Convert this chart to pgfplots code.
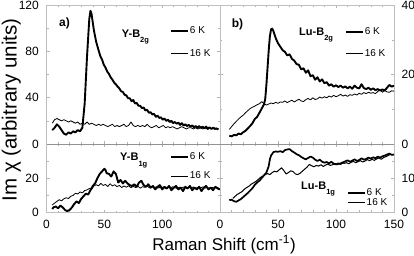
\documentclass[border=0pt]{standalone}
\usepackage{fontspec}
\setmainfont{Liberation Sans}
\usepackage{pgfplots}
\pgfplotsset{compat=1.18}
\pgfplotsset{
 panel/.style={
  scale only axis, axis line style={gray!50}, tick style={gray!60, line width=0.5pt},
  tick align=inside, major tick length=3pt, minor tick length=2pt,
  xmin=0, xmax=150, xtick={0,50,100,150}, minor x tick num=4,
  ticklabel style={font=\fontsize{12}{14}\selectfont, inner sep=0pt},
  xticklabel style={yshift=-7.5pt},
  /pgf/number format/assume math mode=true,
  legend style={draw=none, fill=none, font=\fontsize{10}{12}\selectfont, inner sep=0pt, outer sep=0pt, nodes={inner sep=0pt}, column sep=1pt},
  legend cell align=left,
  legend image code/.code={\draw[##1] (0pt,0pt) -- (17pt,0pt);},
 },
 leftlab/.style={yticklabel pos=left, yticklabel style={xshift=-7.5pt}},
 rightlab/.style={yticklabel pos=right, yticklabel style={xshift=7.5pt}},
 thick6/.style={black, line width=1.9pt, line join=round},
 thin16/.style={black, line width=0.8pt, line join=round},
}
\newcommand{\sub}[1]{\raisebox{-5.5pt}{\fontsize{7.5}{8}\selectfont #1}}
\begin{document}
\begin{tikzpicture}
\useasboundingbox (0,0) rectangle (414pt,-255pt);
% ---------------- top left: Y-B2g
\begin{axis}[panel, leftlab, at={(46.5pt,-144pt)}, anchor=south west, width=173.5pt, height=139pt,
  ymin=0, ymax=120, ytick={0,40,80,120}, minor y tick num=1, xticklabels={},
  legend style={at={(0.712,0.842)}, anchor=north west, row sep=13.8pt}]
\addplot[thick6] coordinates {(5,12) (7,14) (9,17) (11,15) (13,12) (15,9) (17,8) (19,10) (21,9) (23,11) (25,10) (27,12) (29,11) (31,14) (33,35) (35,75) (37,108) (38,115) (39,112) (41,98) (43,88)
 (45,81) (46.5,76) (48,73) (49.5,68.5) (51,66) (52.5,62.5) (54,60.5) (55.5,57.5) (57,55.5) (58.5,53) (60,51.5) (61.5,49.5) (63,48) (64.5,45.5) (66,45) (67.5,42.5) (69,42) (70.5,39.5) (72,39.5) (73.5,37) (75,38) (76.5,35) (78,35.5) (79.5,33) (81,33) (82.5,31) (84,31.5) (85.5,29) (87,29.5) (88.5,27) (90,27.5) (91.5,25.5) (93,26) (94.5,23.5) (96,24.5) (97.5,22.5) (99,23) (100.5,21) (102,22) (103.5,20) (105,21) (106.5,19) (108,20) (109.5,18) (111,19) (112.5,17.5) (114,18.5) (115.5,16.5) (117,18) (118.5,16) (120,17) (121.5,15.5) (123,16.5) (124.5,15) (126,16) (127.5,14.5) (129,15.5) (130.5,14) (132,15.5) (133.5,14) (135,15) (136.5,13.5) (138,15) (139.5,13) (141,14.5) (142.5,13) (144,14) (145.5,13) (147,13.5) (148.5,12.5)};
\addlegendentry{6 K}
\addplot[thin16] coordinates {(5,18) (7,21) (9,22) (11,21) (13,20) (15,21) (17,20) (19,19) (21,20) (23,19) (25,18) (27,19) (29,17) (31,18) (33,17) (35,19) (37,17) (39,18) (41,17) (43,16) (45,17) (47,16) (49,17) (51,16) (53,15) (55,16) (57,17) (59,15) (61,16) (63,15) (65,16) (67,17) (69,15) (71,16) (73,19) (75,16) (77,15) (79,16) (81,15) (83,16) (85,15) (87,17) (89,15) (91,14) (93,15) (95,16) (97,14) (99,15) (101,16) (103,14) (105,15) (107,14) (109,15) (111,14) (113,13) (115,14) (117,15) (119,14) (121,13) (123,14) (125,14) (127,13) (129,14) (131,13) (133,14) (135,13) (137,14) (139,13) (141,14) (143,13) (145,14) (147,13) (149,13)};
\addlegendentry{16 K}
\end{axis}
% ---------------- top right: Lu-B2g
\begin{axis}[panel, rightlab, at={(220pt,-144pt)}, anchor=south west, width=174pt, height=139pt,
  ymin=0, ymax=40, ytick={0,20,40}, minor y tick num=1, xticklabels={},
  legend style={at={(0.718,0.839)}, anchor=north west, row sep=13.5pt}]
\addplot[thick6] coordinates {(8,2.4) (10,2.2) (12,2.6) (14,2.5) (16,3.0) (18,2.8) (20,3.4) (22,3.8) (24,4.5) (26,5.2) (28,6.0) (30,7.2) (32,7.8) (34,9.0) (36,10.2) (38,11.5) (39,13) (40,17) (41,22) (42,27) (43,31) (44,33) (45,33.2) (46,32.5) (48,30.5) (50,29) (52,28) (54,27) (56,26.5) (58,25.5) (60,25.8) (62,24.5) (64,24) (66,23) (68,22.8) (70,21.5) (72,21.8) (74,20.5) (76,21.2) (78,19.5) (80,19.8) (82,18.5) (84,19.2) (86,18) (88,18.6) (90,17.5) (92,17.8) (94,16.8) (96,17.2) (98,16.5) (100,16.9) (102,16.4) (104,16.8) (106,16.2) (108,16.6) (110,16.0) (112,16.5) (114,15.9) (116,16.8) (118,16.2) (120,16.0) (122,17.2) (124,16.1) (126,15.8) (128,16.2) (130,15.6) (132,16.0) (134,15.5) (136,15.8) (138,15.4) (140,15.7) (142,15.4) (144,16.2) (146,17.0) (148,16.5) (150,16.8)};
\addlegendentry{6 K}
\addplot[thin16] coordinates {(8,4.2) (10,5) (12,5.8) (14,6.5) (16,7.2) (18,7.8) (20,8.3) (22,9) (24,9.6) (26,10.2) (28,10.6) (30,10.9) (32,11.3) (34,11.6) (36,12.2) (38,11.6) (40,11.2) (42,11.5) (44,11.8) (46,11.6) (48,12) (50,11.7) (52,12.1) (54,12) (56,12.4) (58,11.9) (60,12.3) (62,12.6) (64,12.1) (66,12.5) (68,12.9) (70,12.4) (72,12.2) (74,12.8) (76,13.1) (78,12.7) (80,13.3) (82,12.8) (84,13.0) (86,13.5) (88,13.2) (90,13.6) (92,13.3) (94,13.8) (96,13.5) (98,14.0) (100,13.6) (102,13.9) (104,14.3) (106,13.8) (108,14.1) (110,13.7) (112,14.2) (114,14.0) (116,14.4) (118,14.1) (120,14.6) (122,14.3) (124,14.8) (126,14.5) (128,14.9) (130,14.6) (132,14.8) (134,14.5) (136,15.1) (138,15.6) (140,14.9) (142,15.4) (144,15.0) (146,14.9) (148,15.3) (150,15.2)};
\addlegendentry{16 K}
\end{axis}
% ---------------- bottom left: Y-B1g
\begin{axis}[panel, leftlab, at={(46.5pt,-144pt)}, anchor=north west, width=173.5pt, height=68.5pt,
  ymin=0, ymax=40, ytick={0,20,40}, yticklabels={0,20,{}}, minor y tick num=1, xticklabels={0,50,100,{}},
  legend style={at={(0.712,0.877)}, anchor=north west, row sep=10.8pt}]
\addplot[thick6] coordinates {(5,2) (6,3) (8,3.5) (10,2.5) (12,4) (14,3) (16,1.5) (18,0.8) (20,1.5) (22,3) (24,5) (26,6.5) (28,5.5) (30,8) (32,9.5) (34,11) (36,10.5) (38,13) (40,15.5) (42,17) (44,20) (46,22.5) (48,24) (50,25.5) (51,24.8) (52,23) (54,22.5) (56,21) (58,24) (60,22.5) (62,17.5) (64,19) (66,17) (68,18.5) (70,17) (72,16) (74,15.5) (76,16.5) (78,15) (80,17.5) (82,18.5) (84,16) (86,15) (88,16.5) (90,14.5) (92,15.5) (94,13.5) (96,15) (98,16) (100,13.5) (102,15) (104,14) (106,15.5) (108,13) (110,14.5) (112,15.5) (114,13.5) (116,14.5) (118,12.5) (120,15) (122,14) (124,15.5) (126,13) (128,14.5) (130,13.5) (132,15) (134,12.5) (136,14.5) (138,15.5) (140,13.5) (142,14.5) (144,13) (146,15) (148,14) (150,13.5)};
\addlegendentry{6 K}
\addplot[thin16] coordinates {(5,4.4) (7,5.5) (9,6.5) (11,7.5) (13,6.8) (15,8) (17,8.6) (19,8.2) (21,9.5) (23,10) (25,11.2) (27,10.8) (29,12) (31,11.5) (33,12.8) (35,13.2) (37,14) (39,13.5) (41,15.5) (43,16.2) (45,15.6) (47,17) (49,15.8) (51,16.4) (53,15.2) (55,16.8) (57,15.5) (59,16.2) (61,15.1) (63,15.8) (65,14.6) (67,15.5) (69,14.8) (71,15.6) (73,14.5) (75,15.3) (77,14.6) (79,15.4) (81,14.2) (83,15.1) (85,14.7) (87,15.5) (89,14.4) (91,15.2) (93,14.5) (95,15) (97,14.3) (99,15.1) (101,14.6) (103,14.1) (105,14.9) (107,14.3) (109,15) (111,14.5) (113,14.0) (115,14.8) (117,14.4) (119,14.9) (121,14.2) (123,14.7) (125,14.3) (127,14.9) (129,14.1) (131,14.7) (133,14.4) (135,14.9) (137,14.2) (139,14.6) (141,14.1) (143,14.7) (145,14.3) (147,14.8) (149,14.2)};
\addlegendentry{16 K}
\end{axis}
% ---------------- bottom right: Lu-B1g
\begin{axis}[panel, rightlab, at={(220pt,-144pt)}, anchor=north west, width=174pt, height=68pt,
  ymin=0, ymax=20, ytick={0,10,20}, yticklabels={0,10,{}}, minor y tick num=1,
  legend style={at={(0.730,0.347)}, anchor=north west, row sep=1.2pt}]
\addplot[thick6, line width=1.7pt] coordinates {(8,3.5) (10,3.6) (12,3.2) (14,3.0) (16,3.4) (18,3.8) (20,4.4) (22,5.0) (24,5.6) (26,6.3) (28,7.0) (30,8.0) (32,8.7) (34,9.2) (36,10.0) (38,10.8) (40,11.6) (42,13.5) (43,15.5) (44,16.6) (46,17.6) (48,17.8) (50,17.7) (52,17.9) (54,17.6) (56,18.2) (58,18.4) (60,18.5) (62,17.9) (64,17.5) (66,17.0) (68,16.7) (70,16.2) (72,15.8) (74,15.5) (76,15.9) (78,16.3) (80,16.0) (82,15.4) (84,15.0) (86,15.4) (88,14.8) (90,14.5) (92,14.7) (94,14.3) (96,14.8) (98,14.2) (100,14.0) (102,14.3) (104,14.1) (106,14.6) (108,14.9) (110,15.2) (112,14.8) (114,15.1) (116,15.5) (118,15.0) (120,15.3) (122,15.8) (124,15.4) (126,15.6) (128,16.0) (130,15.7) (132,16.1) (134,15.8) (136,16.3) (138,16.0) (140,16.4) (142,16.6) (144,16.9) (146,17.2) (148,16.8) (150,16.9)};
\addlegendentry{6 K}
\addplot[thin16, line width=1pt] coordinates {(11,4.0) (13,4.6) (15,5.2) (17,5.6) (19,6.0) (21,6.7) (23,7.2) (25,7.6) (27,8.2) (29,8.6) (31,9.0) (33,9.6) (35,10.2) (37,10.6) (39,11.0) (41,11.3) (43,11.0) (45,11.6) (47,12.0) (49,11.8) (51,12.4) (53,13.0) (55,12.2) (57,11.2) (59,11.6) (61,12.1) (63,11.9) (65,11.2) (67,11.0) (69,11.4) (71,12.0) (73,12.6) (75,13.2) (77,14.0) (79,13.6) (81,13.3) (83,13.7) (85,13.5) (87,13.9) (89,13.4) (91,13.8) (93,14.1) (95,13.7) (97,13.9) (99,14.3) (101,13.9) (103,14.2) (105,14.6) (107,14.3) (109,14.5) (111,14.2) (113,14.6) (115,14.9) (117,14.5) (119,14.8) (121,15.1) (123,14.7) (125,15.0) (127,15.4) (129,15.1) (131,15.5) (133,15.2) (135,15.6) (137,15.9) (139,15.5) (141,16.0) (143,16.3) (145,16.6) (147,17.0) (149,16.8)};
\addlegendentry{16 K}
\end{axis}
% middle zero line
\draw[gray!85, line width=0.6pt] (46.5pt,-144pt) -- (394pt,-144pt);
% texts
\node[anchor=base west, inner sep=0pt, font=\bfseries\fontsize{12}{14}\selectfont] at (59pt,-26.5pt) {a)};
\node[anchor=base west, inner sep=0pt, font=\bfseries\fontsize{12}{14}\selectfont] at (231.7pt,-27.5pt) {b)};
\node[anchor=base west, inner sep=0pt, font=\bfseries\fontsize{11}{13}\selectfont] at (121.7pt,-37.3pt) {Y-B\sub{2g}};
\node[anchor=base west, inner sep=0pt, font=\bfseries\fontsize{11}{13}\selectfont] at (299pt,-35pt) {Lu-B\sub{2g}};
\node[anchor=base west, inner sep=0pt, font=\bfseries\fontsize{11}{13}\selectfont] at (120pt,-160.7pt) {Y-B\sub{1g}};
\node[anchor=base west, inner sep=0pt, font=\bfseries\fontsize{11}{13}\selectfont] at (301pt,-189.3pt) {Lu-B\sub{1g}};
\node[rotate=90, anchor=base, inner sep=0pt, font=\fontsize{20.5}{24}\selectfont] at (16.7pt,-110pt) {Im χ (arbitrary units)};
\node[anchor=base, inner sep=0pt, font=\fontsize{17}{20}\selectfont] at (224pt,-250pt) {Raman Shift (cm\textsuperscript{-1})};
\end{tikzpicture}
\end{document}
